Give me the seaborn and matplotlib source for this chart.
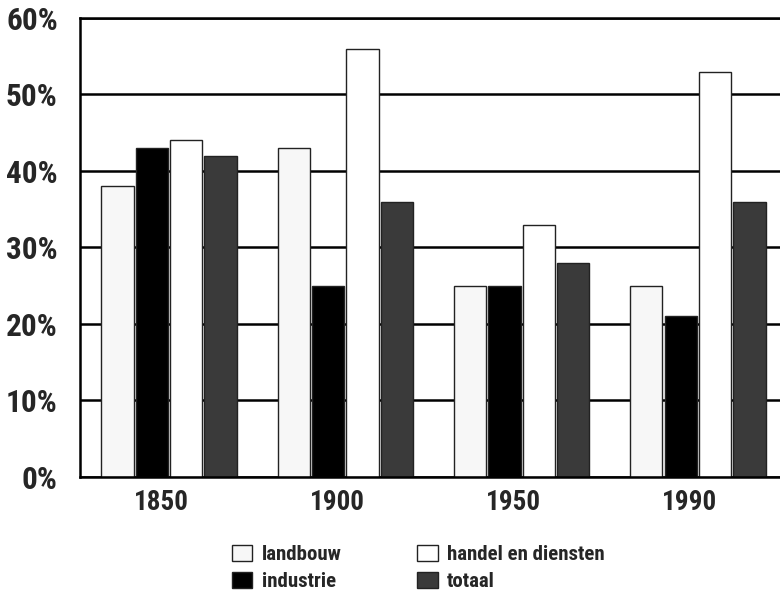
import matplotlib
matplotlib.use("Agg")
import matplotlib.pyplot as plt
import pandas as pd
import seaborn as sns

years = ["1850", "1900", "1950", "1990"]
sectors = ["landbouw", "industrie", "handel en diensten", "totaal"]
landbouw = [38, 43, 25, 25]
industrie = [43, 25, 25, 21]
handel = [44, 56, 33, 53]
totaal = [42, 36, 28, 36]
y_ticks = [0, 10, 20, 30, 40, 50, 60]

colors = {"landbouw": "#f7f7f7", "industrie": "#000000",
          "handel en diensten": "#ffffff", "totaal": "#3a3a3a"}

rows = []
for sector, values in zip(sectors, [landbouw, industrie, handel, totaal]):
    for year, v in zip(years, values):
        rows.append({"jaar": year, "sector": sector, "aandeel": v})
df = pd.DataFrame(rows)

sns.set_theme(style="white")
plt.rcParams["font.family"] = ["Roboto Condensed", "Roboto", "DejaVu Sans"]
plt.rcParams["font.weight"] = "bold"

fig = plt.figure(figsize=(7.8, 5.96), dpi=100)
ax = fig.add_axes([0.1026, 0.1997, 0.8974, 0.7701])

# gridlines behind the bars
for t in y_ticks:
    ax.axhline(t, color="black", linewidth=1.8, zorder=0)

sns.barplot(data=df, x="jaar", y="aandeel", hue="sector", hue_order=sectors,
            palette=colors, width=0.78, gap=0.06, edgecolor="#222222",
            linewidth=1.0, saturation=1, ax=ax, zorder=2)

ax.set_ylim(0, 60)
ax.set_xlim(-0.505, 3.466)
ax.set_yticks(y_ticks)
ax.set_yticklabels([f"{t}%" for t in y_ticks], fontsize=22.5, fontweight="bold")
ax.set_xticks([i - 0.045 for i in range(len(years))])
ax.set_xticklabels(years, fontsize=19.5, fontweight="bold")
ax.tick_params(axis="both", length=0)
ax.tick_params(axis="y", pad=16)
ax.tick_params(axis="x", pad=9)
ax.set_xlabel("")
ax.set_ylabel("")

ax.spines["right"].set_visible(False)
for side in ["left", "bottom", "top"]:
    ax.spines[side].set_color("black")
    ax.spines[side].set_linewidth(1.8)

handles, labels = ax.get_legend_handles_labels()
ax.legend_.remove()
fig.legend(handles, labels, ncol=2, frameon=False, fontsize=15,
           loc="center", bbox_to_anchor=(0.536, 0.047),
           handlelength=1.0, handleheight=0.8, handletextpad=0.45,
           columnspacing=3.6, labelspacing=0.4, borderpad=0.2)

fig.savefig("out.png", dpi=100)
